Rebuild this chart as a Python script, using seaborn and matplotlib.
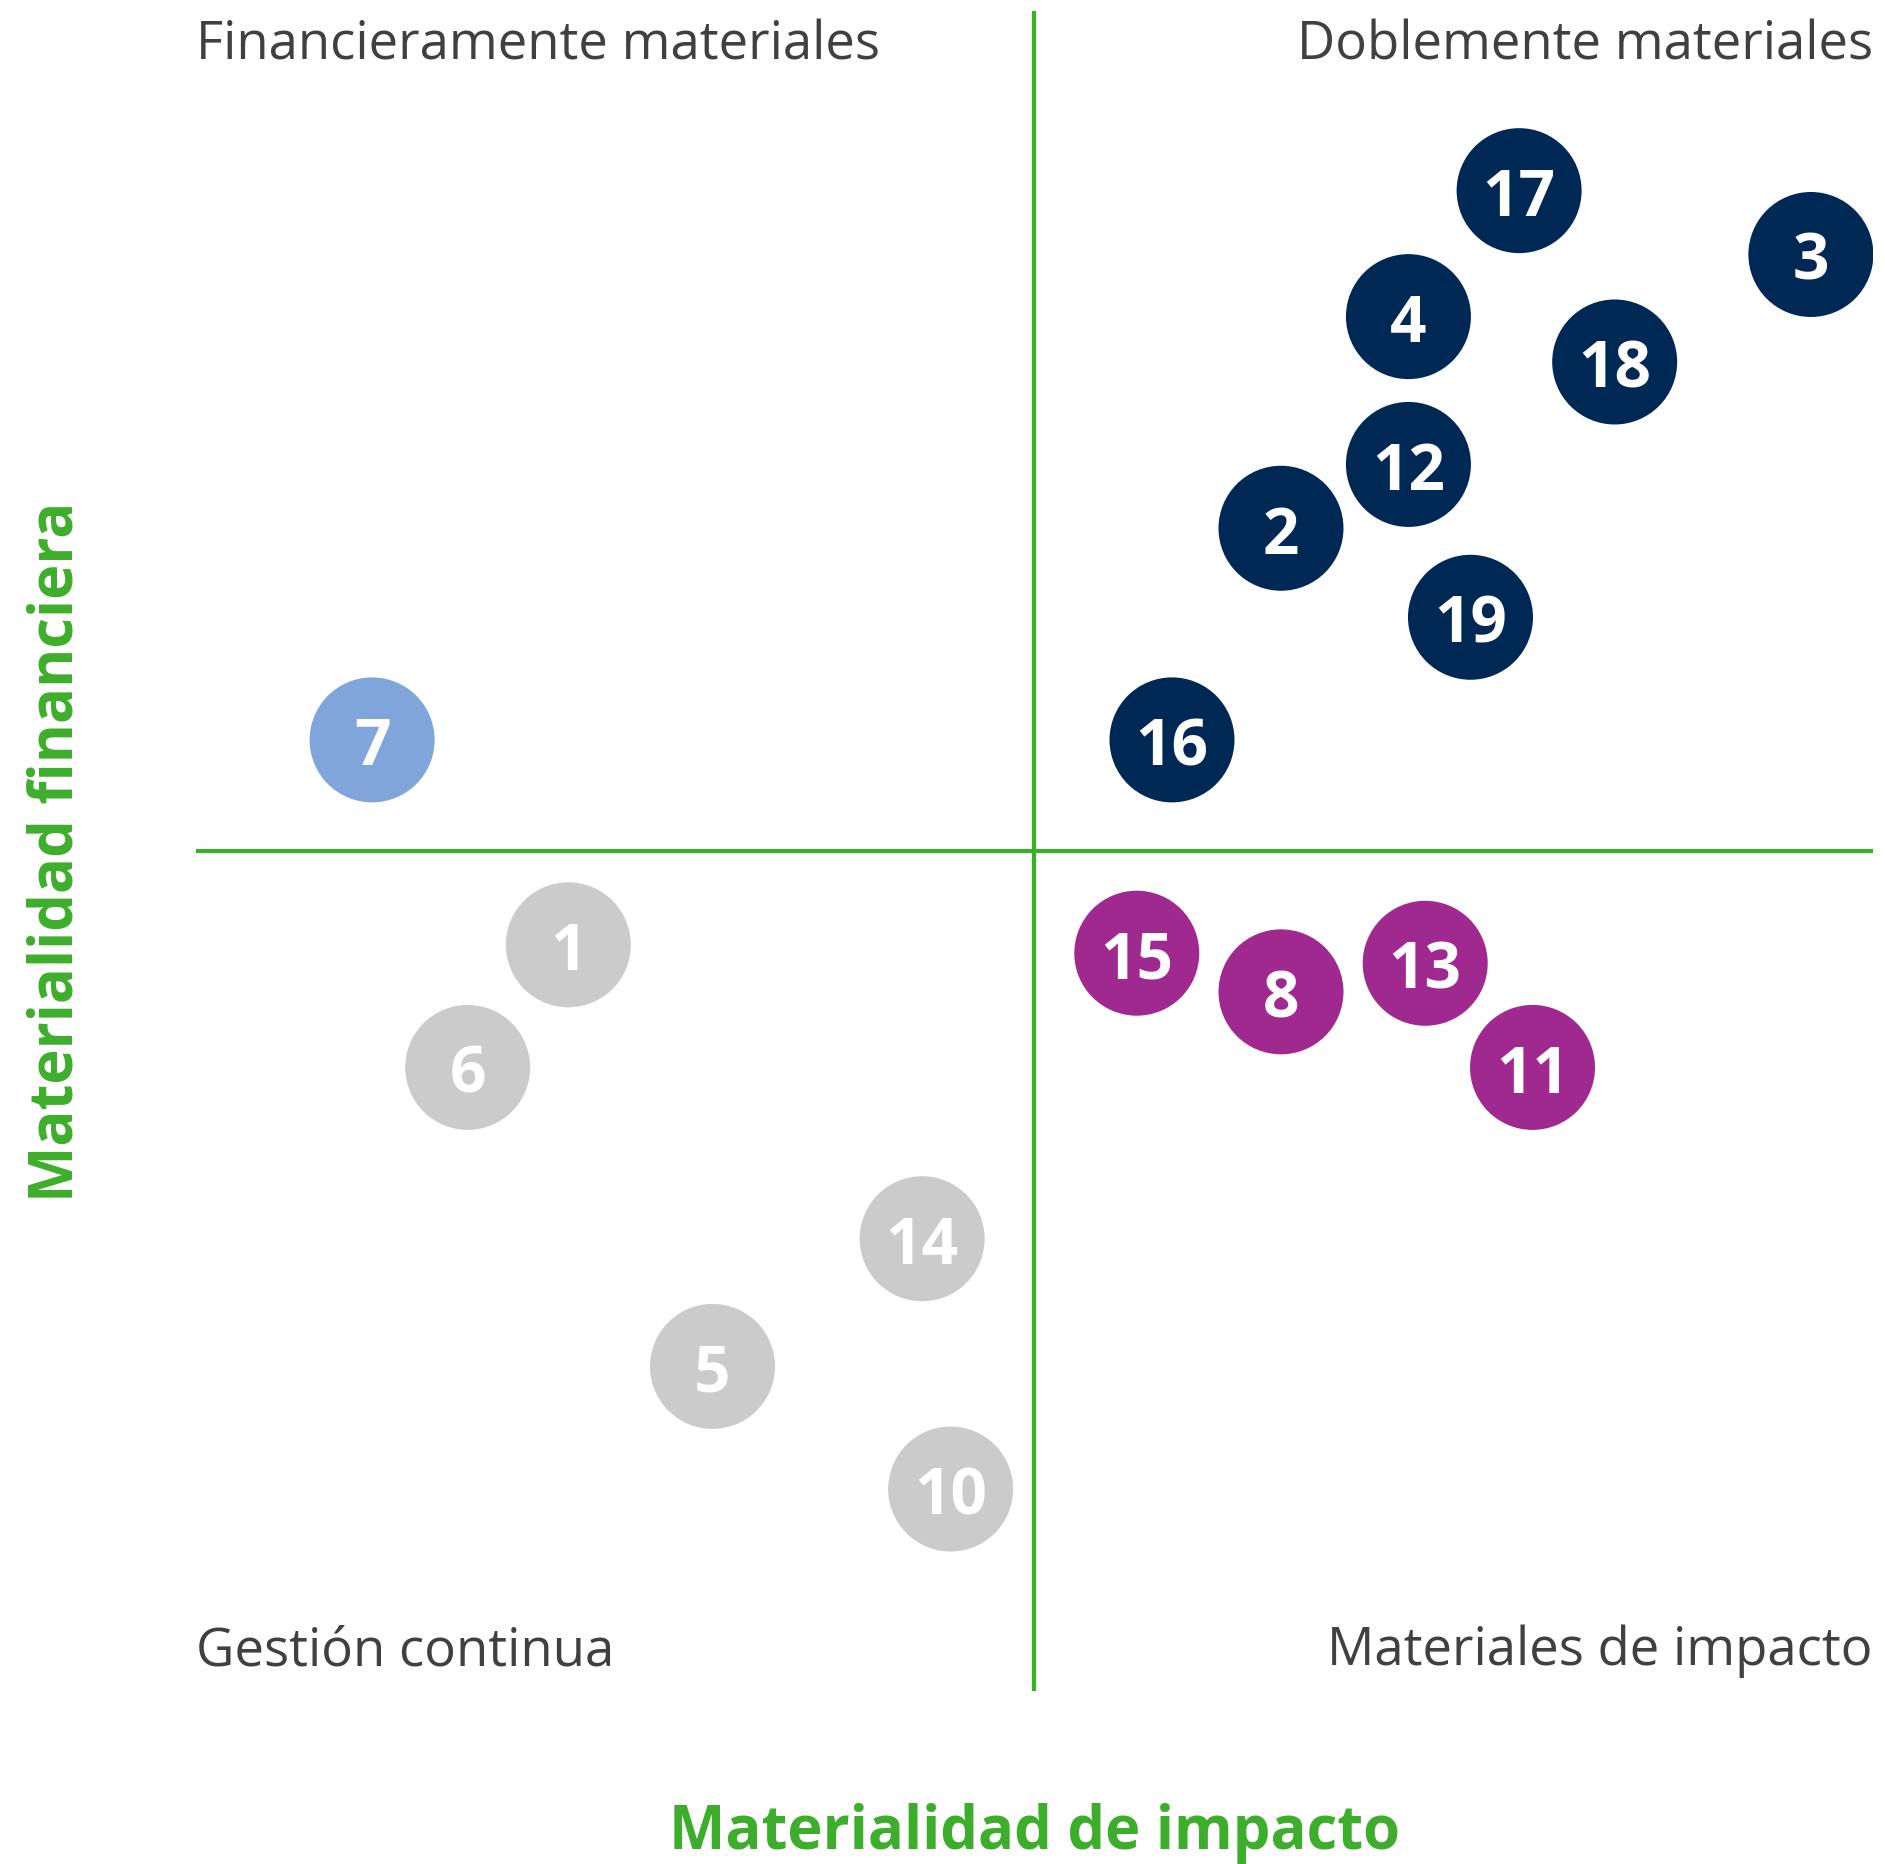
import pandas as pd
import matplotlib.pyplot as plt
import seaborn as sns

# --- datos de la matriz de doble materialidad ---
temas = [17, 3, 4, 18, 12, 2, 19, 16, 7, 15, 8, 13, 11, 1, 6, 14, 5, 10]
impacto = [7.89, 9.63, 7.23, 8.46, 7.23, 6.47, 7.60, 5.82, 1.05,
           5.61, 6.47, 7.33, 7.97, 2.22, 1.62, 4.33, 3.08, 4.50]
financiera = [8.93, 8.55, 8.18, 7.91, 7.30, 6.92, 6.39, 5.66, 5.66,
              4.39, 4.16, 4.33, 3.71, 4.44, 3.71, 2.69, 1.93, 1.20]
grupo = ['doble'] * 8 + ['financiera'] + ['impacto'] * 4 + ['gestion'] * 5

colores = {'doble': '#002855', 'financiera': '#7FA5DA',
           'impacto': '#A0298F', 'gestion': '#CBCBCB'}
verde = '#3DAE2B'
gris_texto = '#404040'

df = pd.DataFrame({'tema': temas, 'impacto': impacto,
                   'financiera': financiera, 'grupo': grupo})

sns.set_style('white')
plt.rcParams['font.family'] = ['Open Sans', 'DejaVu Sans']

fig = plt.figure(figsize=(18.85, 18.65), dpi=100)
ax = fig.add_axes([0.104, 0.093, 0.8896, 0.9006])

sns.scatterplot(data=df, x='impacto', y='financiera', hue='grupo',
                palette=colores, s=8100, linewidth=0, legend=False,
                ax=ax, zorder=3)

for _, fila in df.iterrows():
    ax.text(fila['impacto'], fila['financiera'], str(fila['tema']),
            ha='center', va='center_baseline', color='white',
            fontsize=46, fontweight='bold', zorder=4)

# lineas de cuadrantes
ax.axvline(5, color=verde, lw=3, zorder=1)
ax.axhline(5, color=verde, lw=3, zorder=1)

ax.set_xlim(0, 10)
ax.set_ylim(0, 10)
for lado in ax.spines.values():
    lado.set_visible(False)
ax.set_xticks([])
ax.set_yticks([])
ax.set_xlabel('')
ax.set_ylabel('')

# etiquetas de cuadrantes
kw = dict(transform=ax.transAxes, fontsize=38, color=gris_texto)
ax.text(0, 0.996, 'Financieramente materiales', ha='left', va='top', **kw)
ax.text(1, 0.996, 'Doblemente materiales', ha='right', va='top', **kw)
ax.text(0, 0.008, 'Gestión continua', ha='left', va='bottom', **kw)
ax.text(1, 0.008, 'Materiales de impacto', ha='right', va='bottom', **kw)

# titulos de ejes
fig.text(0.549, 0.017, 'Materialidad de impacto', ha='center', va='center',
         fontsize=43, fontweight='bold', color=verde)
fig.text(0.030, 0.543, 'Materialidad financiera', ha='center', va='center',
         rotation=90, fontsize=43, fontweight='bold', color=verde)

fig.savefig('out.png', dpi=100)
